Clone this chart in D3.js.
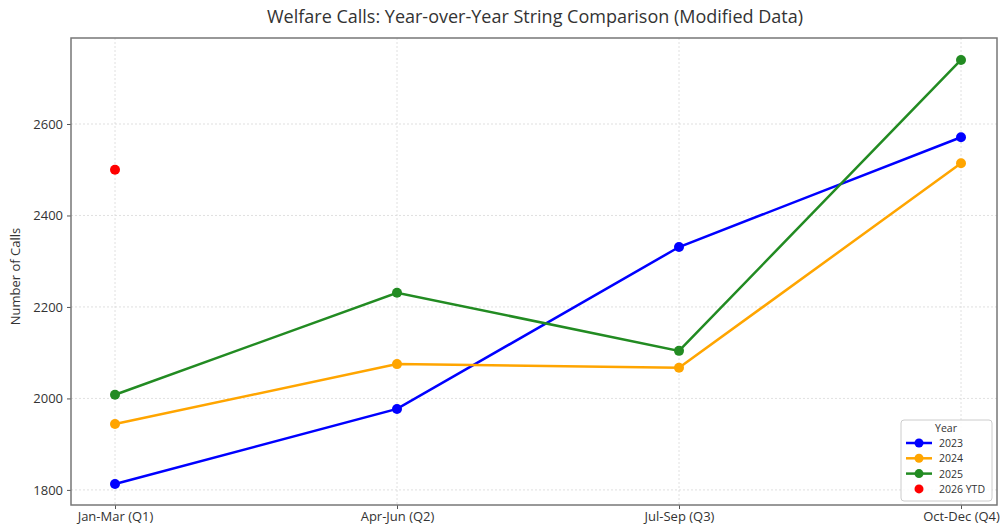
<!DOCTYPE html>
<html>
<head>
<meta charset="utf-8">
<script src="https://cdn.jsdelivr.net/npm/d3@7"></script>
<style>
  body { margin: 0; background: #fff; }
  svg text { font-family: "Open Sans", "DejaVu Sans", sans-serif; fill: #333; }
</style>
</head>
<body>
<div id="drawing_region"></div>
<script>
// quarters on the x axis
const quarters = ["Jan-Mar (Q1)", "Apr-Jun (Q2)", "Jul-Sep (Q3)", "Oct-Dec (Q4)"];
const yTicks = [1800, 2000, 2200, 2400, 2600];

const calls2023 = [1813, 1977, 2331, 2571];
const calls2024 = [1944, 2075, 2067, 2514];
const calls2025 = [2008, 2231, 2104, 2740];
const calls2026 = [2500];

const seriesNames = ["2023", "2024", "2025", "2026 YTD"];
const seriesColors = ["#0000ff", "#ffa500", "#228b22", "#ff0000"];

const config = {
    width: 1000,
    height: 527,
    margin: { top: 38, right: 3, bottom: 22, left: 71 },
};

const series = [
    { name: seriesNames[0], values: calls2023, color: seriesColors[0], line: true },
    { name: seriesNames[1], values: calls2024, color: seriesColors[1], line: true },
    { name: seriesNames[2], values: calls2025, color: seriesColors[2], line: true },
    { name: seriesNames[3], values: calls2026, color: seriesColors[3], line: false },
];

const innerW = config.width - config.margin.left - config.margin.right;
const innerH = config.height - config.margin.top - config.margin.bottom;

const svg = d3.select('#drawing_region')
    .append('svg')
    .attr('width', config.width)
    .attr('height', config.height);

const g = svg.append('g')
    .attr('transform', `translate(${config.margin.left},${config.margin.top})`);

const x = d3.scalePoint()
    .domain(quarters)
    .range([44, innerW - 36]);

const y = d3.scaleLinear()
    .domain([1767, 2788])
    .range([innerH, 0]);

// grid
g.append('g')
    .selectAll('line')
    .data(yTicks)
    .join('line')
    .attr('x1', 0).attr('x2', innerW)
    .attr('y1', d => y(d)).attr('y2', d => y(d))
    .attr('stroke', '#d8d8d8')
    .attr('stroke-width', 0.8)
    .attr('stroke-dasharray', '2,2');

g.append('g')
    .selectAll('line')
    .data(quarters)
    .join('line')
    .attr('x1', d => x(d)).attr('x2', d => x(d))
    .attr('y1', 0).attr('y2', innerH)
    .attr('stroke', '#d8d8d8')
    .attr('stroke-width', 0.8)
    .attr('stroke-dasharray', '2,2');

// axes
const xAxis = g.append('g')
    .attr('transform', `translate(0,${innerH})`)
    .call(d3.axisBottom(x).tickSize(4).tickPadding(3));
const yAxis = g.append('g')
    .call(d3.axisLeft(y).tickValues(yTicks).tickFormat(d3.format('d')).tickSize(4).tickPadding(4));

[xAxis, yAxis].forEach(a => {
    a.select('.domain').remove();
    a.selectAll('.tick line').attr('stroke', '#555');
    a.selectAll('.tick text').style('font-size', '13px').attr('fill', '#333');
});

// frame
g.append('rect')
    .attr('width', innerW)
    .attr('height', innerH)
    .attr('fill', 'none')
    .attr('stroke', '#777')
    .attr('stroke-width', 1.5);

// lines and points
const line = d3.line()
    .x((d, i) => x(quarters[i]))
    .y(d => y(d));

series.forEach(s => {
    if (s.line) {
        g.append('path')
            .datum(s.values)
            .attr('d', line)
            .attr('fill', 'none')
            .attr('stroke', s.color)
            .attr('stroke-width', 2.5);
    }
    g.append('g')
        .selectAll('circle')
        .data(s.values)
        .join('circle')
        .attr('cx', (d, i) => x(quarters[i]))
        .attr('cy', d => y(d))
        .attr('r', 5)
        .attr('fill', s.color);
});

// title
svg.append('text')
    .attr('x', 535)
    .attr('y', 23)
    .attr('text-anchor', 'middle')
    .style('font-size', '18px')
    .text('Welfare Calls: Year-over-Year String Comparison (Modified Data)');

// y label
svg.append('text')
    .attr('transform', `translate(20,${config.margin.top + innerH / 2 + 5}) rotate(-90)`)
    .attr('text-anchor', 'middle')
    .style('font-size', '13px')
    .text('Number of Calls');

// legend
const legend = svg.append('g').attr('transform', 'translate(901,420)');
legend.append('rect')
    .attr('width', 91)
    .attr('height', 81)
    .attr('rx', 3)
    .attr('fill', '#fff')
    .attr('fill-opacity', 0.85)
    .attr('stroke', '#ccc');
legend.append('text')
    .attr('x', 45)
    .attr('y', 12)
    .attr('text-anchor', 'middle')
    .style('font-size', '10.5px')
    .text('Year');

series.forEach((s, i) => {
    const row = legend.append('g').attr('transform', `translate(0,${23 + i * 15.3})`);
    if (s.line) {
        row.append('line')
            .attr('x1', 5).attr('x2', 31)
            .attr('stroke', s.color)
            .attr('stroke-width', 2.5);
    }
    row.append('circle')
        .attr('cx', 18)
        .attr('r', 4.5)
        .attr('fill', s.color);
    row.append('text')
        .attr('x', 38)
        .attr('y', 4)
        .style('font-size', '10.5px')
        .text(s.name);
});
</script>
</body>
</html>
